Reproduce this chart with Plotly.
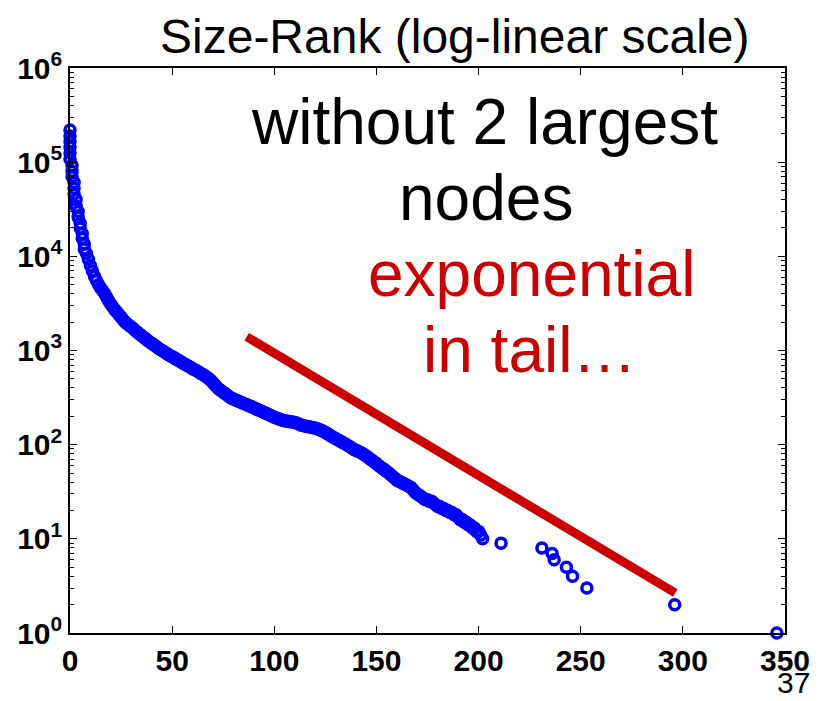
import plotly.graph_objects as go

# Head of the curve: the steep drop near rank 0 (several points per rank position)
rank_head = [0, 0, 0, 0, 0, 0, 1, 1, 1, 2, 2, 2, 3, 3, 4, 4, 5, 5, 6, 6, 7, 7]
size_head = [220000, 190000, 165000, 145000, 125000, 108000,
             92000, 80000, 70000, 61000, 53000, 46000,
             40000, 34000, 30000, 26000, 22500, 20000, 17500, 15500, 13500, 12000]

# Dense body of the size-rank curve, ranks 8..202
rank_dense = list(range(8, 203))
size_dense = [
    10800, 9300,
    8000, 7000, 6100, 5500, 5000, 4600, 4300, 4000, 3650, 3350,
    3100, 2900, 2700, 2550, 2400, 2250, 2120, 2000, 1920, 1840,
    1780, 1700, 1620, 1560, 1500, 1440, 1380, 1330, 1280, 1230,
    1190, 1150, 1110, 1070, 1030, 1000, 970, 940, 910, 880,
    860, 835, 810, 790, 765, 740, 720, 700, 680, 665,
    640, 625, 610, 590, 570, 555, 540, 520, 500, 480,
    455, 430, 405, 388, 374, 360, 348, 335, 322, 312,
    305, 298, 292, 286, 280, 274, 268, 262, 258, 252,
    246, 240, 235, 230, 225, 220, 215, 210, 205, 200,
    196, 192, 188, 185, 182, 180, 178, 176, 175, 174,
    172, 170, 166, 162, 160, 158, 156, 155, 153, 151,
    150, 148, 145, 142, 139, 135, 131, 127, 123, 119,
    116, 113, 110, 107, 104, 101, 98, 95, 92, 89,
    87, 85, 83, 81, 78, 76, 73, 70, 68, 65,
    63, 60, 58, 56, 54, 52, 50, 48, 46, 44,
    42, 41, 40, 39, 38, 37, 36, 35, 33, 31,
    30, 29, 28, 27, 26, 26, 25, 25, 24, 23,
    22, 22, 21, 21, 20, 20, 19, 19, 18, 18,
    17, 16, 16, 15, 15, 14, 14, 13, 13, 12,
    12, 11, 10,
]

# Isolated tail points
rank_tail = [211, 231, 236, 237, 243, 246, 253, 296, 346]
size_tail = [9, 8, 7, 6, 5, 4, 3, 2, 1]

# Exponential guide line
line_x = [86.5, 296.3]
line_y = [1400, 2.66]

ytick_vals = [1, 10, 100, 1000, 10000, 100000, 1000000]
ytick_text = ["10<sup>0</sup>", "10<sup>1</sup>", "10<sup>2</sup>", "10<sup>3</sup>",
              "10<sup>4</sup>", "10<sup>5</sup>", "10<sup>6</sup>"]
xtick_vals = [0, 50, 100, 150, 200, 250, 300, 350]

minor_vals = [m * 10 ** k for k in range(0, 6) for m in range(2, 10)]

fig = go.Figure()
fig.add_trace(go.Scatter(
    x=line_x, y=line_y, mode="lines",
    line=dict(color="#CC0000", width=9),
    showlegend=False, hoverinfo="skip",
))
fig.add_trace(go.Scatter(
    x=rank_head + rank_dense + rank_tail, y=size_head + size_dense + size_tail, mode="markers",
    marker=dict(symbol="circle", size=10, color="rgba(255,255,255,0)",
                line=dict(width=3.5, color="#0000FF")),
    cliponaxis=False, showlegend=False,
))

tickfont = dict(family="Liberation Sans, Arial, sans-serif", size=30, color="black", weight="bold")

fig.update_layout(
    width=823, height=701,
    margin=dict(l=70, r=38, t=68, b=68),
    paper_bgcolor="white", plot_bgcolor="white",
    xaxis=dict(
        range=[0, 350], tickmode="array", tickvals=xtick_vals,
        ticks="inside", ticklen=7, tickwidth=1, tickcolor="black",
        showline=True, linecolor="black", linewidth=1.5, mirror="ticks",
        showgrid=False, zeroline=False, tickfont=tickfont,
    ),
    yaxis=dict(
        type="log", range=[0, 6], tickmode="array", tickvals=ytick_vals, ticktext=ytick_text,
        ticks="inside", ticklen=7, tickwidth=1, tickcolor="black",
        showline=True, linecolor="black", linewidth=1.5, mirror="ticks",
        showgrid=False, zeroline=False, tickfont=tickfont,
        minor=dict(tickmode="array", tickvals=minor_vals, ticks="inside", ticklen=4,
                   tickcolor="black", showgrid=False),
    ),
    font=dict(family="Liberation Sans, Arial, sans-serif", color="black"),
)

def ann(text, x, y, size, color="black", xanchor="center", yanchor="middle"):
    fig.add_annotation(text=text, x=x, y=y, xref="paper", yref="paper",
                       xanchor=xanchor, yanchor=yanchor, showarrow=False,
                       font=dict(family="Liberation Sans, Arial, sans-serif", size=size, color=color))

ann("Size-Rank (log-linear scale)", 0.539, 1.055, 48)
ann("without 2 largest", 0.580, 0.905, 64)
ann("nodes", 0.582, 0.770, 64)
ann("exponential", 0.645, 0.635, 64, color="#CC0000")
ann("in tail…", 0.643, 0.501, 64, color="#CC0000")
ann("37", 1.0378, -0.1204, 30, xanchor="right", yanchor="bottom")

fig.write_html("out.html")
